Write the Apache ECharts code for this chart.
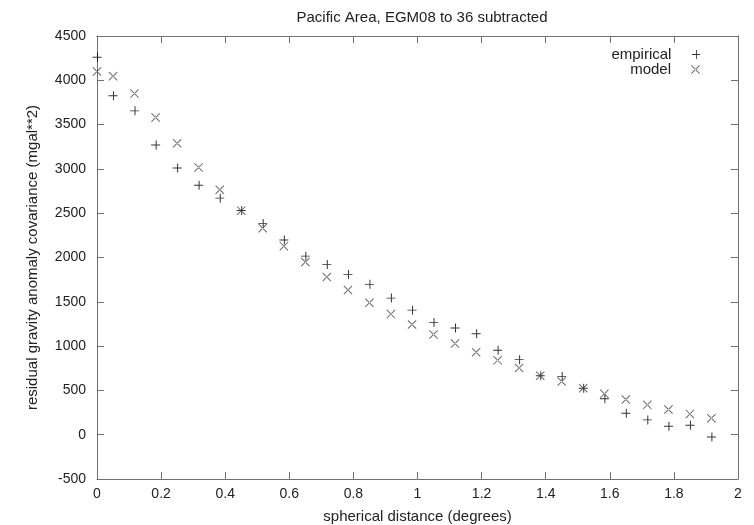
<!DOCTYPE html>
<html>
<head>
<meta charset="utf-8">
<script src="https://cdn.jsdelivr.net/npm/echarts@6/dist/echarts.min.js"></script>
<style>
  html, body { margin: 0; padding: 0; background: #fff; }
  #main { width: 754px; height: 525px; }
</style>
</head>
<body>
<div id="main"></div>
<script>
var distance = [0, 0.05, 0.117, 0.183, 0.25, 0.317, 0.383, 0.45, 0.517, 0.583,
    0.65, 0.717, 0.783, 0.85, 0.917, 0.983, 1.05, 1.117, 1.183, 1.25,
    1.317, 1.383, 1.45, 1.517, 1.583, 1.65, 1.717, 1.783, 1.85, 1.917];
var empirical = [4260, 3825, 3655, 3270, 3010, 2815, 2670, 2530, 2385, 2198,
    2015, 1920, 1807, 1697, 1542, 1406, 1265, 1205, 1140, 953,
    847, 665, 658, 525, 405, 242, 167, 96, 106, -26];
var model = [4100, 4045, 3850, 3580, 3289, 3017, 2764, 2529, 2330, 2128,
    1950, 1780, 1633, 1489, 1361, 1244, 1131, 1028, 930, 839,
    752, 665, 601, 525, 461, 397, 337, 284, 235, 185];
var xTicks = [0, 0.2, 0.4, 0.6, 0.8, 1, 1.2, 1.4, 1.6, 1.8, 2];
var yTicks = [-500, 0, 500, 1000, 1500, 2000, 2500, 3000, 3500, 4000, 4500];

var plusPath = 'path://M0,4.5L9,4.5L9,5.5L0,5.5Z M4.5,0L5.5,0L5.5,10L4.5,10Z';
var crossPath = 'path://M0,0.7L0.7,0L9,8.3L8.3,9Z M9,0.7L8.3,0L0,8.3L0.7,9Z';

var frameColor = '#707070';
var textColor = '#222';
var font = 'Liberation Sans, Arial, sans-serif';

function pairs(xs, ys) {
    return xs.map(function (x, i) { return [x, ys[i]]; });
}

var myChart = echarts.init(document.getElementById('main'));

function axisBase(min, max, interval) {
    return {
        type: 'value',
        min: min,
        max: max,
        interval: interval,
        splitLine: { show: false },
        axisLine: { show: true, onZero: false, lineStyle: { color: frameColor, width: 1 } },
        axisTick: { show: true, inside: true, length: 7, lineStyle: { color: frameColor } }
    };
}

var xMain = axisBase(xTicks[0], xTicks[xTicks.length - 1], 0.2);
xMain.position = 'bottom';
xMain.name = 'spherical distance (degrees)';
xMain.nameLocation = 'middle';
xMain.nameGap = 30;
xMain.nameTextStyle = { color: textColor, fontSize: 15, fontFamily: font };
xMain.axisLabel = { color: textColor, fontSize: 14, fontFamily: font, margin: 8 };

var xTop = axisBase(xTicks[0], xTicks[xTicks.length - 1], 0.2);
xTop.position = 'top';
xTop.axisLabel = { show: false };

var yMain = axisBase(yTicks[0], yTicks[yTicks.length - 1], 500);
yMain.position = 'left';
yMain.name = 'residual gravity anomaly covariance (mgal**2)';
yMain.nameLocation = 'middle';
yMain.nameGap = 57;
yMain.nameTextStyle = { color: textColor, fontSize: 15, fontFamily: font };
yMain.axisLabel = {
    color: textColor, fontSize: 14, fontFamily: font, margin: 11,
    formatter: function (v) { return String(v); }
};

var yRight = axisBase(yTicks[0], yTicks[yTicks.length - 1], 500);
yRight.position = 'right';
yRight.axisLabel = { show: false };

option = {
    backgroundColor: '#fff',
    animation: false,
    title: {
        text: 'Pacific Area, EGM08 to 36 subtracted',
        left: 417,
        textAlign: 'center',
        top: 5,
        textStyle: { color: textColor, fontSize: 15, fontWeight: 'normal', fontFamily: font }
    },
    grid: { left: 97, right: 16, top: 36, bottom: 46, outerBoundsMode: 'none' },
    legend: [{
        data: [{ name: 'empirical', icon: plusPath }],
        right: 49,
        top: 42,
        align: 'right',
        itemWidth: 9,
        itemHeight: 9,
        textStyle: { color: textColor, fontSize: 15, fontFamily: font, padding: [0, 15, 0, 0] }
    }, {
        data: [{ name: 'model', icon: crossPath }],
        right: 49,
        top: 57,
        align: 'right',
        itemWidth: 9,
        itemHeight: 9,
        textStyle: { color: textColor, fontSize: 15, fontFamily: font, padding: [0, 15, 0, 0] }
    }],
    xAxis: [xMain, xTop],
    yAxis: [yMain, yRight],
    series: [{
        name: 'empirical',
        type: 'scatter',
        symbol: plusPath,
        symbolSize: 9,
        itemStyle: { color: '#000' },
        data: pairs(distance, empirical)
    }, {
        name: 'model',
        type: 'scatter',
        symbol: crossPath,
        symbolSize: 9,
        itemStyle: { color: '#444' },
        data: pairs(distance, model)
    }]
};
myChart.setOption(option);
</script>
</body>
</html>
